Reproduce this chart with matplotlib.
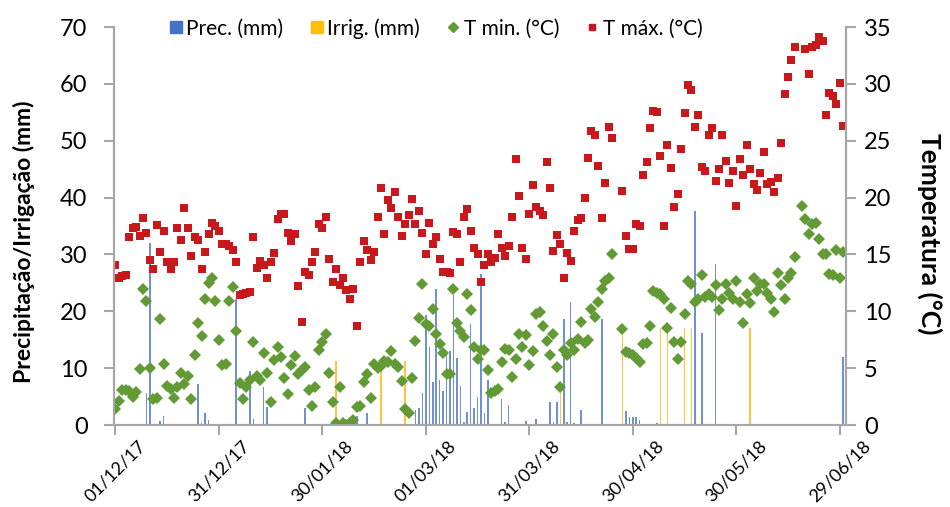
import numpy as np
import pandas as pd
import matplotlib
matplotlib.use("Agg")
import matplotlib.pyplot as plt
from matplotlib.lines import Line2D

plt.rcParams['font.family'] = ['Lato', 'DejaVu Sans']

nan = np.nan

# daily series, day 0 = 01/12/2017
start = pd.Timestamp('2017-12-01')

t_max = [14.1, 12.9, 13.1, 13.2, 16.5, 17.3, 17.4, 16.6, 18.2, 16.9,
         14.5, 13.7, 17.6, 15.2, 17.1, 14.3, 13.7, 14.3, 17.3, 16.3,
         19.1, 17.3, 14.9, 16.5, 16.3, 13.7, 15.2, 16.8, 17.8, 17.5,
         17.1, 15.9, 15.9, 15.7, 15.4, 14.3, 11.4, 11.5, 11.6, 11.7,
         16.5, 13.8, 14.4, 14.1, 12.9, 14.3, 15.1, 18.1, 18.6, 18.6,
         16.9, 16.2, 16.8, 12.2, 9.1, 13.5, 13.2, 14.3, 15.2, 17.7,
         17.3, 18.3, 14.6, 12.6, 13.7, 12.3, 12.9, 11.9, 11.1, 12.0,
         8.75, 14.3, 16.2, 15.4, 14.5, 15.2, 18.3, 20.8, 16.8, 19.8,
         19.1, 20.5, 18.3, 16.6, 17.7, 18.5, 19.9, 17.7, 18.8, 16.9,
         15.0, 17.8, 15.9, 16.5, 14.6, 13.5, 13.5, 13.4, 17.0, 16.8,
         14.3, 18.3, 19.0, 17.1, 15.6, 15.0, 12.6, 14.1, 15.0, 14.3,
         14.7, 16.8, 15.6, 14.9, 15.7, 18.3, 23.4, 20.1, 15.6, 14.6,
         18.6, 21.1, 19.2, 18.8, 18.5, 23.1, 20.8, 15.3, 16.7, 15.9,
         12.9, 15.1, 14.4, 17.1, 18.0, 18.2, 20.0, 23.5, 25.9, 25.5,
         22.8, 18.2, 21.3, 26.2, 25.2, nan, nan, 20.6, 16.6, 15.5,
         15.5, 17.7, 17.5, 22.0, 23.1, 26.1, 27.6, 27.5, 23.7, 17.5,
         24.6, 22.6, 19.2, 20.3, 24.3, 27.4, 29.9, 29.5, 26.2, 27.3,
         22.7, 22.3, 25.5, 26.1, 21.5, 22.5, 25.5, 23.2, 21.3, 22.3,
         19.3, 23.4, 22.0, 24.6, 22.5, 21.2, 20.7, 22.2, 24.0, 21.2,
         21.4, 20.5, 21.7, 24.8, 29.1, 30.6, 32.1, 33.2, nan, nan,
         33.1, 30.9, 33.2, 33.4, 34.1, 33.8, 27.3, 29.2, 28.9, 28.2,
         30.1, 26.3]

t_min = [1.4, 2.1, 3.1, 3.1, 3.0, 2.5, 2.9, 4.9, 12.0, 10.9,
         5.0, 2.3, 2.4, 9.3, 5.4, 3.4, 3.2, 2.4, 3.3, 4.6,
         3.6, 4.3, 2.3, 6.2, 9.0, 7.8, 11.1, 12.5, 12.9, 10.9,
         7.5, 5.3, 5.4, 10.9, 12.1, 8.3, 3.7, 2.3, 3.3, 4.0,
         7.3, 4.3, 4.0, 6.3, 4.6, 2.0, 5.7, 6.9, 6.0, 4.1,
         2.7, 5.3, 6.1, 4.5, 4.8, 5.1, 3.1, 1.7, 3.3, 6.6,
         7.3, 8.0, 4.6, 2.0, 0.2, 3.3, 0.2, 0.0, 0.2, 0.4,
         1.6, 1.7, 3.8, 4.5, 2.4, 5.4, 5.0, 5.2, 5.6, 5.5,
         6.5, 5.4, 5.1, 3.9, 1.4, 1.1, 4.1, 7.4, 9.4, 12.4,
         8.9, 8.7, 10.2, 8.0, 7.1, 6.3, 4.5, 4.5, 12.0, 9.0,
         8.3, 7.7, 11.5, 10.1, 6.9, 5.8, 6.6, 6.6, 4.8, 2.8,
         3.0, 3.2, 5.5, 6.7, 6.6, 4.2, 5.8, 8.0, 6.9, 7.9,
         5.3, 6.5, 9.8, 9.9, 8.7, 7.4, 6.2, 8.0, 5.1, 3.3,
         6.6, 6.2, 7.2, 6.6, 7.6, 9.1, 7.2, 7.5, 10.2, 9.5,
         10.8, 12.0, 12.7, 12.9, 15.0, nan, nan, 8.4, 6.4, 6.3,
         6.2, 5.9, 5.5, 7.1, 7.2, 8.7, 11.8, 11.6, 11.5, 11.1,
         8.5, 10.3, 7.3, 5.8, 7.3, 9.8, 12.7, 12.4, 10.8, 11.1,
         13.2, 11.3, 11.5, 11.3, 12.3, 10.1, 11.1, 12.4, 11.6, 11.1,
         12.7, 10.8, 9.0, 11.5, 10.7, 12.9, 11.8, 12.4, 12.4, 11.6,
         11.1, 9.9, 13.4, 12.3, 11.1, 12.9, 13.4, 14.8, nan, 19.3,
         18.1, 16.8, 17.7, 17.8, 16.4, 15.0, 15.0, 13.3, 13.2, 15.4,
         12.9, 15.2]

# rain days (day index -> mm)
prec_days = [9, 10, 13, 14, 24, 25, 26, 27, 35, 39, 40, 43, 44, 55, 70, 73,
             87, 88, 89, 90, 91, 92, 93, 94, 95, 96, 97, 98, 99, 100, 101,
             102, 103, 104, 105, 106, 107, 108, 112, 113, 114, 119, 122,
             126, 127, 128, 130, 131, 132, 133, 135, 141, 148, 149, 150,
             151, 152, 157, 168, 170, 174, 186, 187, 188, 195, 200, 211]
prec_mm = [5.6, 32.0, 0.7, 1.6, 7.2, 0.4, 2.1, 0.9, 22.2, 9.5, 1.1, 6.6, 3.2,
           3.0, 1.6, 2.2, 2.6, 3.0, 5.6, 19.3, 13.7, 7.5, 24.0, 7.9, 5.9,
           12.7, 13.0, 22.8, 11.8, 6.8, 0.5, 2.3, 17.7, 3.0, 5.0, 26.6, 2.1,
           8.0, 4.5, 0.5, 3.6, 0.7, 1.0, 4.0, 0.5, 4.1, 18.6, 0.5, 21.6, 0.4,
           2.6, 18.6, 2.5, 1.4, 1.4, 1.4, 0.8, 0.3, 37.6, 16.1, 28.3, 0.2,
           0.2, 0.2, 0.2, 0.2, 11.9]

irr_days = [64, 77, 84, 129, 147, 158, 160, 165, 167, 184]
irr_mm = [11.3, 9.8, 11.2, 7.7, 16.3, 17.0, 16.3, 17.0, 17.0, 17.0]

days = np.arange(len(t_max))
tick_days = np.arange(0, 211, 30)
tick_labels = [(start + pd.Timedelta(days=int(d))).strftime('%d/%m/%y') for d in tick_days]

c_prec = '#6f8fd8'
c_irr = '#ffc340'
c_min = '#629a35'
c_max = '#c8181c'
c_axis = '#a6a6a6'

fig = plt.figure(figsize=(9.5, 5.07), dpi=100)
ax = fig.add_axes([0.12, 0.1617, 0.7705, 0.785])
ax2 = ax.twinx()

ax.bar(prec_days, prec_mm, width=0.45, color=c_prec, zorder=2)
ax.bar(irr_days, irr_mm, width=0.45, color=c_irr, zorder=2)

ax2.plot(days, t_min, linestyle='none', marker='D', markersize=6.2,
         color=c_min, markeredgewidth=0)
ax2.plot(days, t_max, linestyle='none', marker='s', markersize=5.8,
         color=c_max, markeredgewidth=0)

ax.set_xlim(-0.4, 211.8)
ax.set_ylim(0, 70)
ax2.set_ylim(0, 35)
ax.set_yticks(np.arange(0, 71, 10))
ax2.set_yticks(np.arange(0, 36, 5))
ax.set_xticks(tick_days)
ax.set_xticklabels(tick_labels, rotation=45, ha='center', va='top')

for a in (ax, ax2):
    a.spines['top'].set_visible(False)
    for s in ('left', 'right', 'bottom'):
        a.spines[s].set_color(c_axis)
        a.spines[s].set_linewidth(1.5)
    a.tick_params(axis='both', colors=c_axis, labelcolor='black', width=1.5,
                  length=7, labelsize=17)
ax.tick_params(axis='y', pad=12)
ax2.tick_params(axis='y', pad=6)
ax.tick_params(axis='x', labelsize=13, pad=2)

ax.set_ylabel('Precipitação/Irrigação (mm)', fontsize=16.5, fontweight='bold')
ax.yaxis.set_label_coords(-0.108, 0.46)
ax2.set_ylabel('Temperatura (°C)', fontsize=19, fontweight='bold', rotation=270,
               va='center')
ax2.yaxis.set_label_coords(1.115, 0.48)

handles = [
    Line2D([], [], linestyle='none', marker='s', markersize=8, color='#4472c4'),
    Line2D([], [], linestyle='none', marker='s', markersize=8, color='#ffc000'),
    Line2D([], [], linestyle='none', marker='D', markersize=5, color=c_min),
    Line2D([], [], linestyle='none', marker='s', markersize=5, color=c_max),
]
labels = ['Prec. (mm)', 'Irrig. (mm)', 'T min. (°C)', 'T máx. (°C)']
fig.legend(handles, labels, loc='center', bbox_to_anchor=(0.458, 0.944), ncol=4,
           frameon=False, fontsize=15, handletextpad=0.1, columnspacing=1.2,
           handlelength=0.8)

fig.savefig('out.png', dpi=100)
